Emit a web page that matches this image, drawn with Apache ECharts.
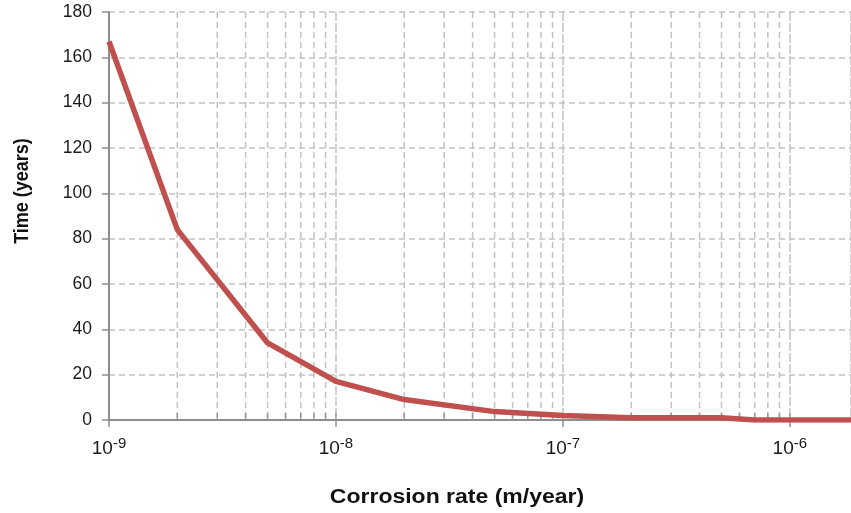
<!DOCTYPE html>
<html>
<head>
<meta charset="utf-8">
<script src="https://cdn.jsdelivr.net/npm/echarts@6/dist/echarts.min.js"></script>
<style>
  html, body { margin: 0; padding: 0; background: #fff; }
  #chart { width: 851px; height: 513px; }
</style>
</head>
<body>
<div id="chart"></div>
<script>
// Corrosion rate (m/year) against time (years)
const rates = [1e-9, 2e-9, 5e-9, 1e-8, 2e-8, 5e-8, 1e-7, 2e-7, 5e-7, 7e-7, 1e-6, 2e-6];
const years = [167, 84, 34, 17, 9, 3.7, 2, 1, 1, 0, 0, 0];

// Axis ranges and ticks
const rateMin = 1e-9;
const rateMax = 1.86e-6;
const decades = [1e-9, 1e-8, 1e-7, 1e-6];
const minorSteps = [2, 3, 4, 5, 6, 7, 8, 9];
const yMin = 0, yMax = 180, yStep = 20;

const minorRates = [];
decades.forEach(d => minorSteps.forEach(m => {
  const v = d * m;
  if (v < rateMax) minorRates.push(v);
}));
const tickRates = decades.concat(minorRates);

const gridColor = '#c2c2c2';
const axisColor = '#8e8e8e';
const textColor = '#1a1a1a';
const lineColor = '#c0504d';
const fontFamily = '"Liberation Sans", Arial, sans-serif';

const chart = echarts.init(document.getElementById('chart'), null, { renderer: 'canvas' });

chart.setOption({
  animation: false,
  backgroundColor: '#ffffff',
  grid: { left: 109, right: 0, top: 12, bottom: 93, containLabel: false, outerBoundsMode: 'none' },
  xAxis: {
    type: 'log',
    logBase: 10,
    min: rateMin,
    max: rateMax,
    axisLine: { show: true, lineStyle: { color: axisColor, width: 2 } },
    axisTick: { show: true, length: 7, lineStyle: { color: axisColor, width: 1.5 } },
    minorTick: { show: false },
    splitLine: { show: true, lineStyle: { color: gridColor, width: 1.5, type: [9, 2] } },
    axisLabel: {
      margin: 16,
      showMaxLabel: false,
      formatter: v => '{b|10}{s|' + Math.round(Math.log10(v)) + '}',
      rich: {
        b: { fontSize: 19, fontFamily: fontFamily, color: textColor, verticalAlign: 'bottom', lineHeight: 22 },
        s: { fontSize: 15, fontFamily: fontFamily, color: textColor, verticalAlign: 'top', lineHeight: 15 }
      }
    }
  },
  yAxis: {
    type: 'value',
    min: yMin,
    max: yMax,
    interval: yStep,
    axisLine: { show: true, lineStyle: { color: axisColor, width: 2 } },
    axisTick: { show: true, length: 7, lineStyle: { color: axisColor, width: 1.5 } },
    splitLine: { show: true, lineStyle: { color: gridColor, width: 1.5, type: [6, 4] } },
    axisLabel: { margin: 17, fontSize: 17.5, fontFamily: fontFamily, color: textColor }
  },
  series: [
    {
      // minor log gridlines (2..9 of each decade), drawn through the axis scales
      type: 'custom',
      z: 1,
      silent: true,
      clip: true,
      data: minorRates.map(v => [v]),
      renderItem: (params, api) => {
        const v = api.value(0);
        const top = api.coord([v, yMax]);
        const bottom = api.coord([v, yMin]);
        return {
          type: 'line',
          shape: { x1: top[0], y1: top[1], x2: bottom[0], y2: bottom[1] },
          style: { stroke: gridColor, lineWidth: 1.5, lineDash: [6, 4] }
        };
      }
    },
    {
      // short inward ticks on the x axis at every log step
      type: 'scatter',
      z: 2,
      silent: true,
      clip: false,
      symbol: 'rect',
      symbolSize: [1.5, 7],
      symbolOffset: [0, -3.5],
      itemStyle: { color: axisColor },
      data: tickRates.map(v => [v, 0])
    },
    {
      type: 'line',
      z: 3,
      data: rates.map((r, i) => [r, years[i]]),
      showSymbol: false,
      symbol: 'none',
      clip: true,
      lineStyle: { color: lineColor, width: 5.5, join: 'round' }
    }
  ],
  graphic: [
    {
      type: 'text',
      x: 22,
      y: 191,
      rotation: Math.PI / 2,
      scaleY: 1.12,
      style: {
        text: 'Time (years)',
        x: 0, y: 0,
        align: 'center',
        verticalAlign: 'middle',
        font: 'bold 18px ' + fontFamily,
        fill: '#111'
      }
    },
    {
      type: 'text',
      x: 457,
      y: 497,
      scaleX: 1.15,
      style: {
        text: 'Corrosion rate (m/year)',
        x: 0, y: 0,
        align: 'center',
        verticalAlign: 'middle',
        font: 'bold 20px ' + fontFamily,
        fill: '#111'
      }
    }
  ]
});
</script>
</body>
</html>
